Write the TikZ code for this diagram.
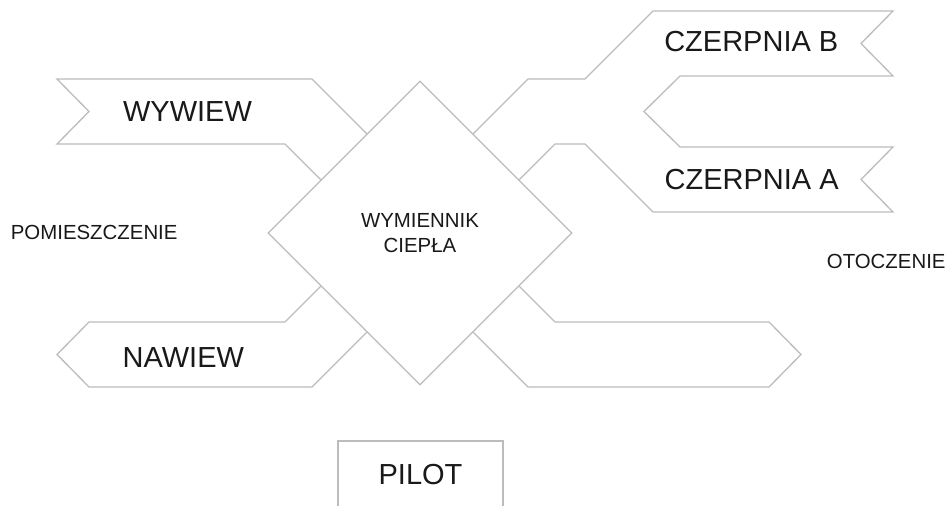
\documentclass[tikz,border=0pt]{standalone}
\usepackage{fontspec}
\setmainfont{Liberation Sans}
\usetikzlibrary{shapes.geometric}
\definecolor{ductgray}{RGB}{188,188,188}
\definecolor{labelblack}{RGB}{25,25,25}

\begin{document}
\begin{tikzpicture}[
    x=1pt, y=-1pt,
    duct/.style={draw=ductgray, line width=1.3pt, line join=miter},
    bigtxt/.style={font=\fontsize{29}{34}\selectfont, text=labelblack,
                   anchor=base, inner sep=0pt},
    smalltxt/.style={font=\fontsize{20.4}{25.6}\selectfont, text=labelblack,
                     anchor=base, inner sep=0pt},
    hxbox/.style={diamond, draw=ductgray, fill=white, line width=1.3pt,
                  minimum width=304pt, minimum height=304pt, inner sep=0pt,
                  align=center, font=\fontsize{20.4}{25.6}\selectfont,
                  text=labelblack},
    pilotbox/.style={draw=ductgray, line width=1.3pt, minimum width=165pt,
                     minimum height=67pt, inner sep=0pt,
                     font=\fontsize{29}{34}\selectfont, text=labelblack},
  ]
  \clip (0,0) rectangle (951,506);

  % --- Room side ---
  % exhaust from the room (notched tail)
  \draw[duct] (367,134) -- (312,79) -- (57,79) -- (89,111.5) -- (57,144)
    -- (285,144) -- (321,180);
  % supply into the room (pointed end)
  \draw[duct] (321,286) -- (285,322) -- (89,322) -- (57,354.5) -- (89,387)
    -- (312,387) -- (367,332);

  % --- Outside ---
  % two intakes joined into one duct
  \draw[duct] (473,134) -- (528,79) -- (585,79) -- (653,11) -- (893,11)
    -- (861,43.5) -- (893,76) -- (680,76) -- (644,111.5) -- (680,147)
    -- (893,147) -- (861,179.5) -- (893,212) -- (653,212) -- (585,144)
    -- (555,144) -- (519,180);
  % outlet to the outside
  \draw[duct] (519,286) -- (555,322) -- (769,322) -- (801,354.5)
    -- (769,387) -- (528,387) -- (473,332);

  % Exchanger
  \node[hxbox] (hx) at (420,233) {WYMIENNIK\\CIEPŁA};

  % Labels
  \node[bigtxt] (wywiew) at (187.5,121.7) {WYWIEW};
  \node[bigtxt] (nawiew) at (183.3,367.7) {NAWIEW};
  \node[bigtxt] (czb) at (751.3,51.7) {CZERPNIA B};
  \node[bigtxt] (cza) at (751.7,189.3) {CZERPNIA A};
  \node[smalltxt] (room) at (94.2,239.3) {POMIESZCZENIE};
  \node[smalltxt] (outside) at (886.2,268.7) {OTOCZENIE};

  % Remote
  \node[pilotbox] (pilot) at (420.5,474.5) {PILOT};

\end{tikzpicture}
\end{document}
